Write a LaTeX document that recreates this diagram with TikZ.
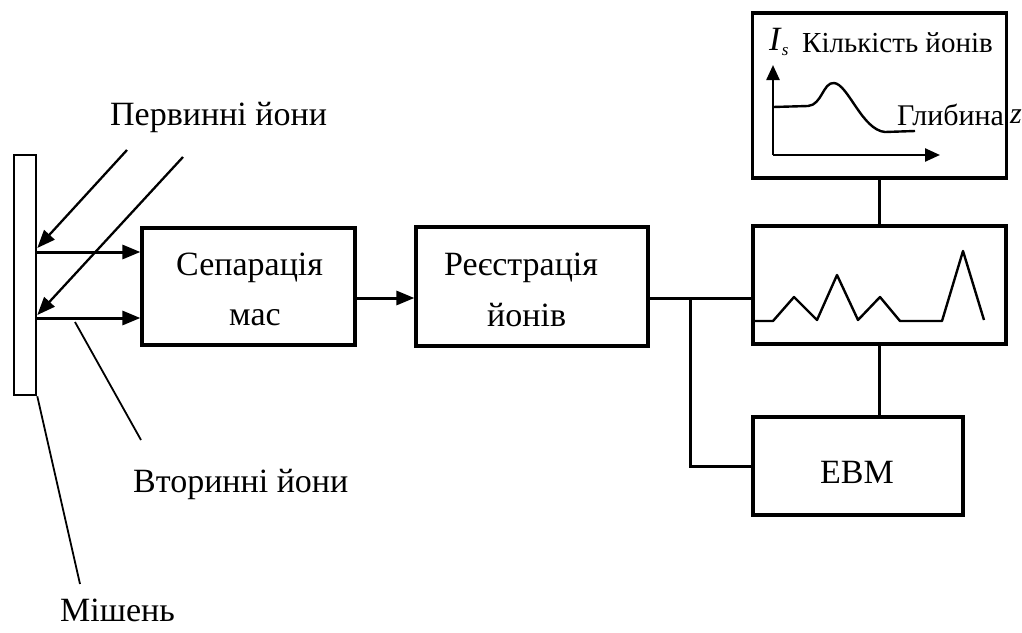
\documentclass[tikz,border=0pt]{standalone}
\usepackage{fontspec}
\setmainfont{Liberation Serif}
\usetikzlibrary{arrows.meta}
\begin{document}
\begin{tikzpicture}[x=1pt,y=-1pt,
  box/.style={draw,line width=3.2pt,inner sep=0pt},
  conn/.style={line width=3pt},
  arr/.style={conn,-{Triangle[length=18pt,width=14pt]}},
  thinarr/.style={line width=2.3pt,-{Triangle[length=18pt,width=14pt]}},
  axarr/.style={line width=2.4pt,-{Triangle[length=15pt,width=13pt]}},
  lead/.style={line width=1.8pt},
  curve/.style={line width=2.4pt,line join=round},
  lbl/.style={font=\fontsize{34}{38}\selectfont,inner sep=0pt,anchor=base west}]
\useasboundingbox (0,0) rectangle (1022,632);

% boxes
\node[box,line width=2.6pt,minimum width=22pt,minimum height=240pt] (tgt) at (25,275) {};
\node[box,minimum width=213pt,minimum height=117pt] (sep) at (248.5,286.5) {};
\node[box,minimum width=232pt,minimum height=119pt] (rec) at (532,286.5) {};
\node[box,minimum width=253pt,minimum height=118pt] (spec) at (879.5,285) {};
\node[box,minimum width=254pt,minimum height=165pt] (graph) at (879.5,95.5) {};
\node[box,minimum width=210pt,minimum height=98pt] (evm) at (858,466) {};

% texts
\node[lbl] (tprim) at (110,125) {Первинні йони};
\node[lbl] (tsep1) at (176,275) {Сепарація};
\node[lbl] (tsep2) at (229,325) {мас};
\node[lbl] (trec1) at (444,275) {Реєстрація};
\node[lbl] (trec2) at (487,326) {йонів};
\node[lbl] (tevm) at (820,483) {ЕВМ};
\node[lbl] (tsec) at (133,492) {Вторинні йони};
\node[lbl] (ttgt) at (60,621) {Мішень};
\node[lbl] (tis) at (769,50) {\textit{I}\raisebox{-0.35ex}{\fontsize{17}{20}\selectfont\textit{s}}};
\node[lbl,font=\fontsize{29}{33}\selectfont] (tkil) at (802,52) {Кількість йонів};
\node[lbl,font=\fontsize{30}{34}\selectfont] (tgl) at (897,125) {Глибина};
\node[lbl,font=\fontsize{30}{34}\selectfont] (tz) at (1010,123) {\textit{z}};

% primary ions
\coordinate (p1) at (127,150);
\coordinate (p2) at (183,157);
\draw[thinarr] (p1) -- ([yshift=27pt]tgt.east);
\draw[thinarr] (p2) -- ([yshift=-40pt]tgt.east);

% secondary ions
\draw[arr] ([yshift=23pt]tgt.east) -- ([yshift=34.5pt]sep.west);
\draw[arr] ([yshift=-43pt]tgt.east) -- ([yshift=-31.5pt]sep.west);

% leaders
\coordinate (ls) at (75,322);
\coordinate (le) at (141,440);
\draw[lead] (ls) -- (le);
\coordinate (lt) at (80,584);
\draw[lead] (tgt.south east) -- (lt);

% chain
\draw[arr] ([yshift=-11.5pt]sep.east) -- ([yshift=-11.5pt]rec.west);
\draw[conn] ([yshift=-11.5pt]rec.east) -- ([yshift=-13pt]spec.west);
\coordinate (j) at (690,298);
\draw[conn] (j) |- (evm.west);
\draw[conn] (spec.north) -- (graph.south);
\draw[conn] (spec.south) -- (spec.south |- evm.north);

% spectrum
\draw[curve] (753,321) -- (773,321) -- (794,297) -- (817,320) -- (837,275) -- (858,320)
  -- (880,297) -- (900,321) -- (942,321) -- (963,251) -- (984,320);

% graph
\coordinate (o) at (773,155);
\draw[axarr] (o) -- (773,65);
\draw[axarr] (o) -- (940,155);
\draw[curve] (773,107) -- (808,106) .. controls (822,105) and (823,82) .. (834,83)
  .. controls (848,84) and (862,130) .. (885,132) -- (915,131);
\end{tikzpicture}
\end{document}
